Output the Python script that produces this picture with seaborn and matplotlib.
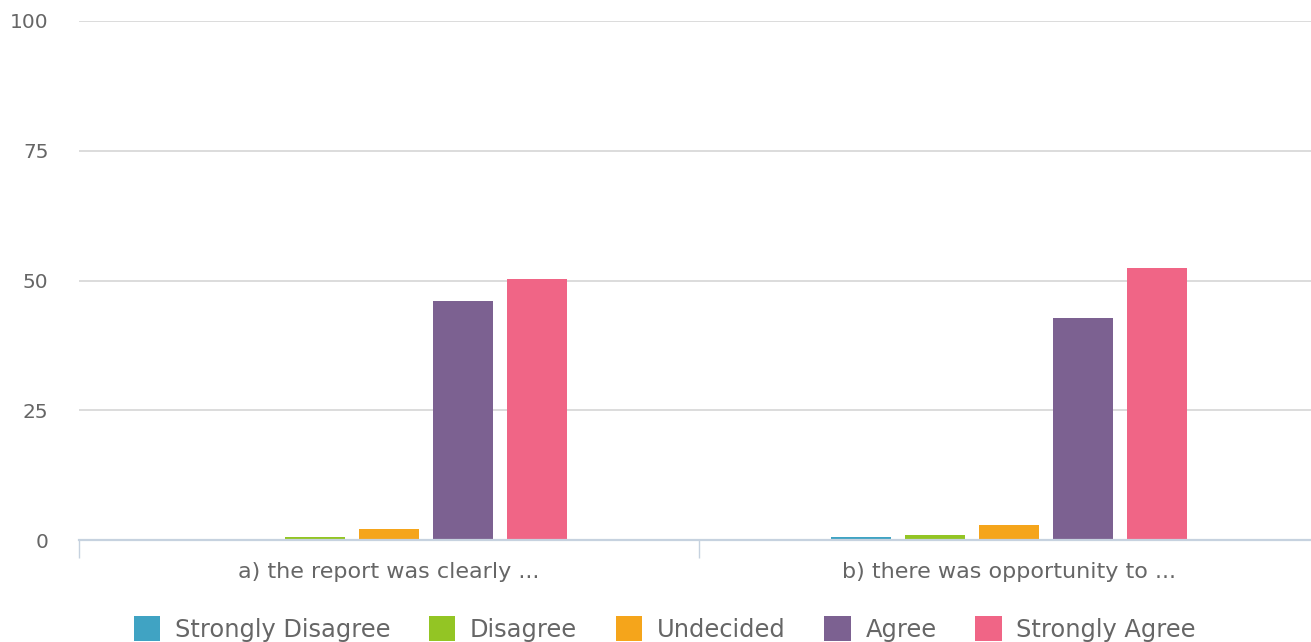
import matplotlib
matplotlib.use("Agg")
import matplotlib.pyplot as plt
import seaborn as sns
import pandas as pd
from matplotlib.patches import Patch

categories = ["a) the report was clearly ...", "b) there was opportunity to ..."]
responses = ["Strongly Disagree", "Disagree", "Undecided", "Agree", "Strongly Agree"]
values_a = [0.0, 0.5, 2.1, 46.0, 50.2]
values_b = [0.5, 0.9, 2.8, 42.7, 52.4]
colors = ["#40a3c3", "#93c524", "#f5a51b", "#7c6191", "#f06586"]
yticks = [0, 25, 50, 75, 100]

rows = []
for cat, vals in zip(categories, [values_a, values_b]):
    for r, v in zip(responses, vals):
        rows.append({"category": cat, "response": r, "value": v})
df = pd.DataFrame(rows)

sns.set_theme(style="white")
plt.rcParams["font.family"] = ["DejaVu Sans"]

W, H = 1311, 642
fig = plt.figure(figsize=(W / 100, H / 100), dpi=100)
ax = fig.add_axes([79 / W, 1 - 540 / H, 1240 / W, (540 - 21) / H])

sns.barplot(data=df, x="category", y="value", hue="response", hue_order=responses,
            order=categories, palette=colors, width=0.598, gap=0.192, ax=ax,
            legend=False, saturation=1, linewidth=0, errorbar=None)

ax.set_xlim(-0.5, 1.5)
ax.set_ylim(0, 100)
ax.set_yticks(yticks)
ax.set_yticklabels([str(t) for t in yticks])
ax.yaxis.grid(True, color="#dcdcdc", linewidth=1.4)
ax.set_axisbelow(True)
ax.set_xlabel("")
ax.set_ylabel("")
for s in ["top", "right", "left"]:
    ax.spines[s].set_visible(False)
ax.spines["bottom"].set_color("#c6d2df")
ax.spines["bottom"].set_linewidth(1.6)
ax.spines["bottom"].set_zorder(5)

ax.tick_params(axis="y", length=0, pad=22, labelsize=14.5, labelcolor="#666666")
ax.tick_params(axis="x", which="major", length=0, pad=16, labelsize=16, labelcolor="#666666")
ax.set_xticks([-0.5, 0.5, 1.5], minor=True)
ax.tick_params(axis="x", which="minor", bottom=True, length=13, width=1,
               color="#c6d2df", direction="out")
for lab in ax.get_yticklabels():
    lab.set_horizontalalignment("right")

handles = [Patch(facecolor=c, edgecolor="none", label=r) for r, c in zip(responses, colors)]
fig.legend(handles=handles, loc="center", bbox_to_anchor=(0.507, 1 - 629 / H), ncol=5,
           frameon=False, fontsize=17.4, labelcolor="#666666", handlelength=1.1,
           handleheight=1.2, handletextpad=0.6, columnspacing=1.6, borderpad=0)

fig.savefig("out.png", dpi=100)
